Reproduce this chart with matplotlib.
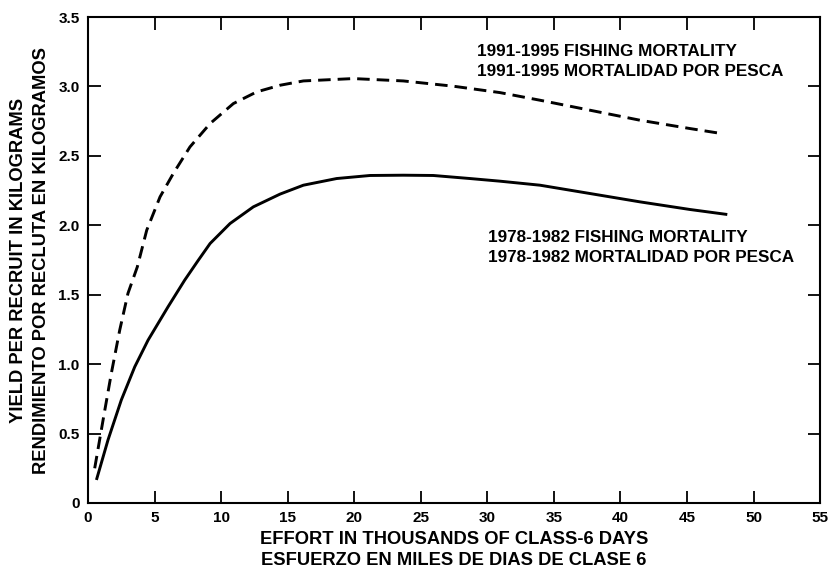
import matplotlib
matplotlib.use("Agg")
import matplotlib.pyplot as plt

# effort (thousands of class-6 days) vs yield per recruit (kg)
effort_7882 = [0.63, 1.50, 2.50, 3.51, 4.51, 6.01, 7.26, 8.26, 9.17, 10.67, 12.42, 14.43,
               16.18, 18.68, 21.19, 23.69, 25.94, 28.70, 30.95, 33.96, 37.72, 41.47,
               45.23, 48.03]
yield_7882 = [0.166, 0.454, 0.742, 0.981, 1.173, 1.413, 1.605, 1.745, 1.869, 2.013, 2.133,
              2.225, 2.289, 2.337, 2.359, 2.361, 2.359, 2.337, 2.318, 2.289, 2.229, 2.169,
              2.114, 2.078]

effort_9195 = [0.50, 1.13, 1.75, 2.38, 3.0, 3.7, 4.41, 5.41, 6.41, 7.66, 9.17, 10.92,
               12.67, 14.43, 16.18, 19.93, 23.69, 27.45, 30.95, 33.96, 37.72, 41.47,
               45.23, 47.6]
yield_9195 = [0.25, 0.598, 0.934, 1.245, 1.51, 1.70, 1.965, 2.205, 2.374, 2.565, 2.733,
              2.877, 2.961, 3.009, 3.04, 3.057, 3.04, 3.002, 2.956, 2.901, 2.829, 2.757,
              2.697, 2.661]

xticks = [0, 5, 10, 15, 20, 25, 30, 35, 40, 45, 50, 55]
yticks = [0, 0.5, 1.0, 1.5, 2.0, 2.5, 3.0, 3.5]
ytick_labels = ["0", "0.5", "1.0", "1.5", "2.0", "2.5", "3.0", "3.5"]

plt.rcParams["font.family"] = ["Liberation Sans", "DejaVu Sans"]
plt.rcParams["font.weight"] = "bold"

fig = plt.figure(figsize=(8.29, 5.69), dpi=100)
ax = fig.add_axes([0.1062, 0.116, 0.883, 0.854])

ax.plot(effort_7882, yield_7882, color="black", lw=2.1, solid_capstyle="butt",
        solid_joinstyle="round")
ax.plot(effort_9195, yield_9195, color="black", lw=2.1, dashes=(4.3, 2.4), dash_capstyle="butt")

ax.set_xlim(0, 55)
ax.set_ylim(0, 3.5)
ax.set_xticks(xticks)
ax.set_yticks(yticks)
ax.set_yticklabels(ytick_labels)
ax.tick_params(direction="in", length=9, width=1.3, top=True, right=True,
               labelsize=11, pad=6)
for lab in ax.get_xticklabels() + ax.get_yticklabels():
    lab.set_fontweight("bold")
for s in ax.spines.values():
    s.set_linewidth(1.5)

ax.text(29.2, 3.25, "1991-1995 FISHING MORTALITY", fontsize=12.3, fontweight="bold", va="center")
ax.text(29.2, 3.11, "1991-1995 MORTALIDAD POR PESCA", fontsize=12.3, fontweight="bold", va="center")
ax.text(30.05, 1.91, "1978-1982 FISHING MORTALITY", fontsize=12.3, fontweight="bold", va="center")
ax.text(30.05, 1.77, "1978-1982 MORTALIDAD POR PESCA", fontsize=12.3, fontweight="bold", va="center")

ax.set_xlabel("EFFORT IN THOUSANDS OF CLASS-6 DAYS\nESFUERZO EN MILES DE DIAS DE CLASE 6",
              fontsize=13.2, fontweight="bold", linespacing=1.3, labelpad=4)
ax.set_ylabel("YIELD PER RECRUIT IN KILOGRAMS\nRENDIMIENTO POR RECLUTA EN KILOGRAMOS",
              fontsize=13.2, fontweight="bold", linespacing=1.45, labelpad=6)

fig.savefig("out.png", dpi=100)
